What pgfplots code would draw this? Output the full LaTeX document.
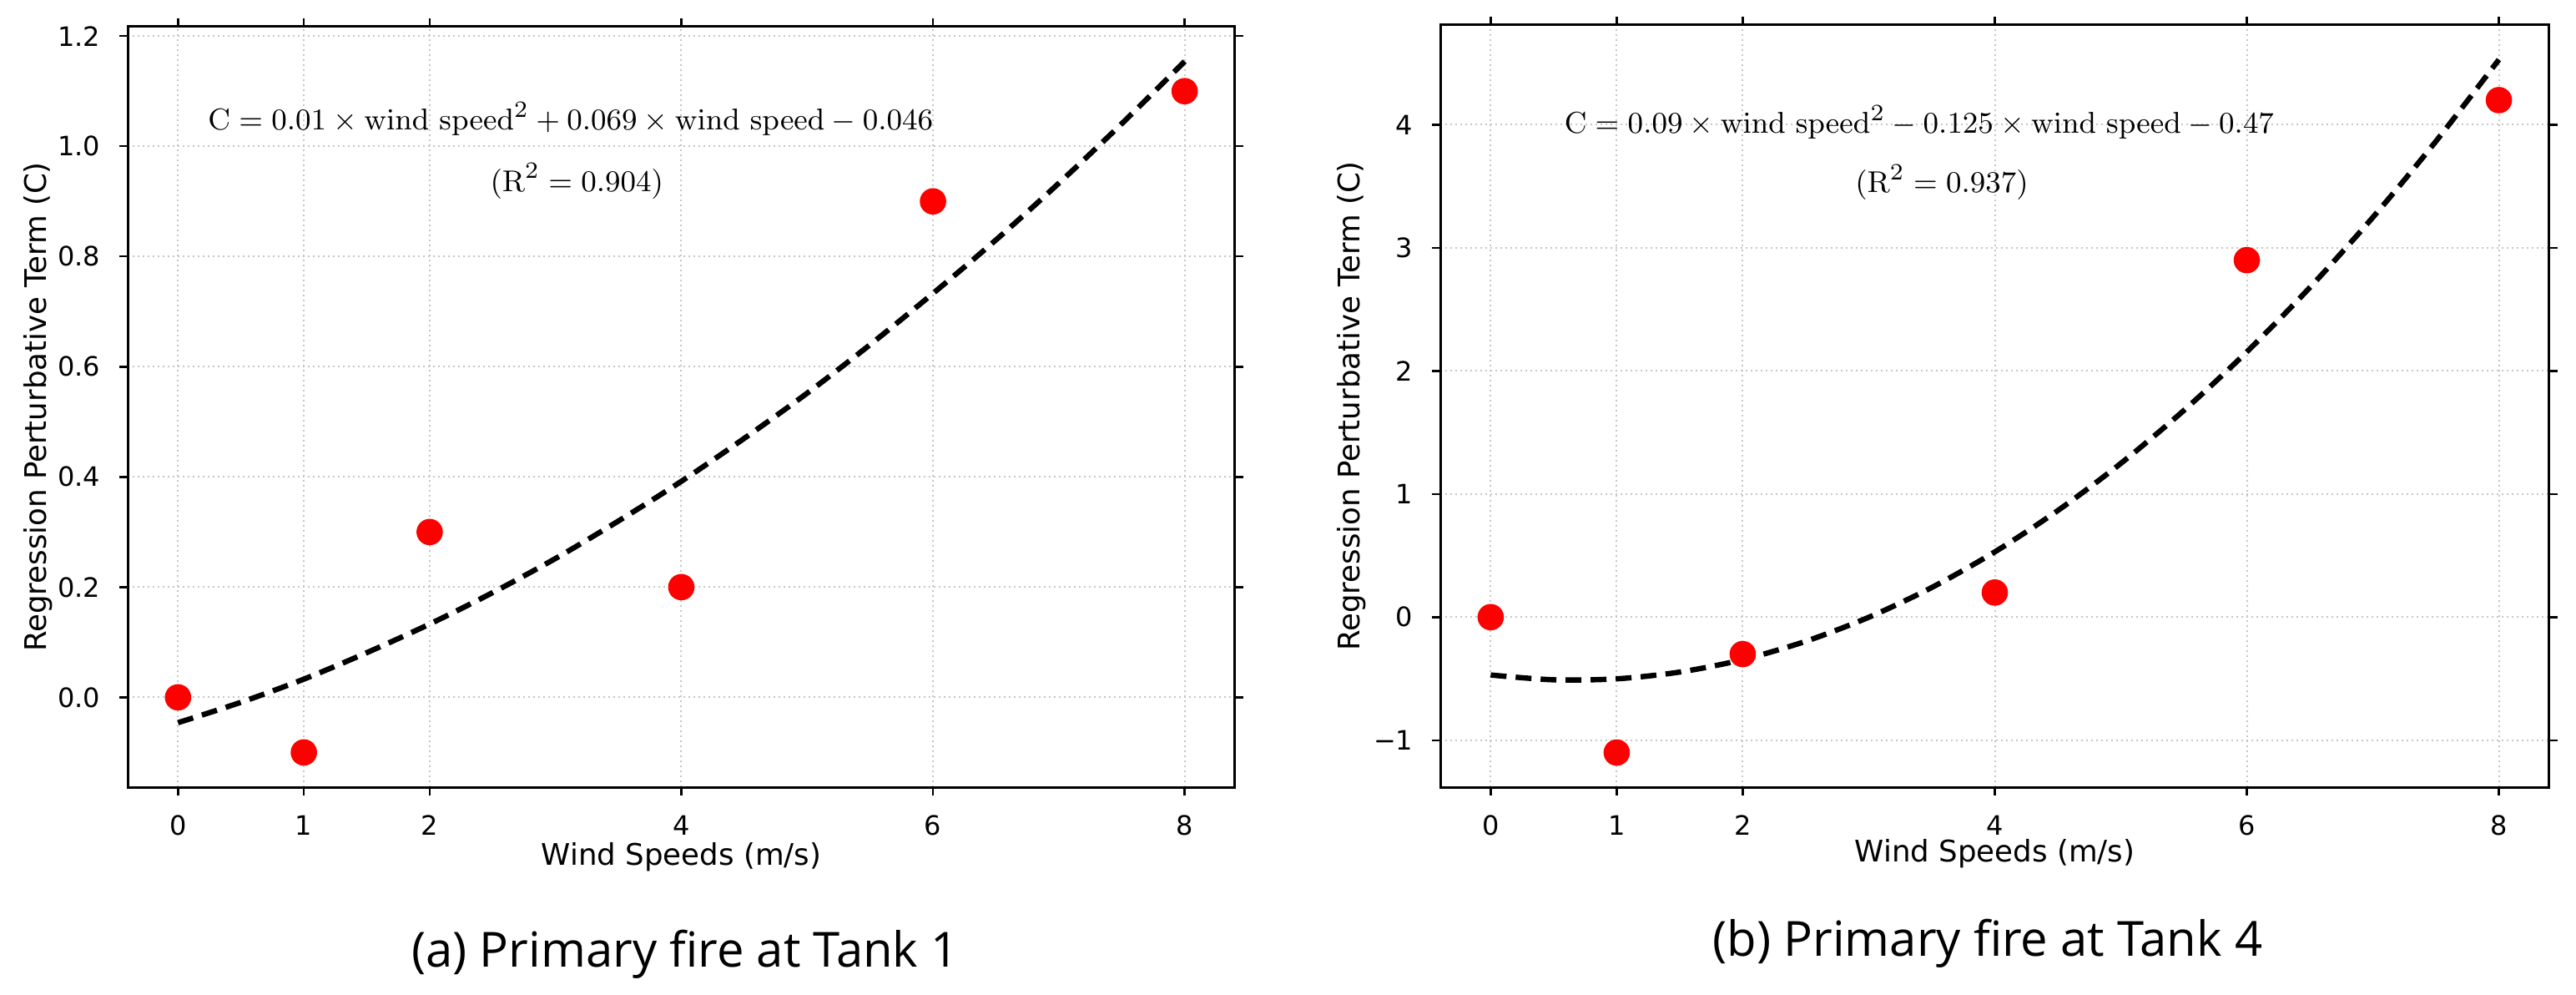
\documentclass[border=0pt]{standalone}
\usepackage[no-math]{fontspec}
\setmainfont{DejaVu Sans}
\newfontfamily\capfont{Open Sans}
\usepackage{pgfplots}
\pgfplotsset{compat=1.18}
\pgfplotsset{
  common/.style={
    scale only axis,
    anchor=south west,
    xmin=-0.4, xmax=8.4,
    xtick={0,1,2,4,6,8}, xticklabels={0,1,2,4,6,8},
    tick align=outside, major tick length=2.5pt,
    tick style={black, line width=0.6pt},
    axis line style={black, line width=0.75pt},
    grid=major,
    major grid style={gray!45, line width=0.5pt, dash pattern=on 0.6pt off 0.9pt},
    xticklabel style={font=\fontsize{8}{9.6}\selectfont, anchor=center, inner sep=0pt, yshift=-9pt},
    yticklabel style={font=\fontsize{8}{9.6}\selectfont, anchor=east, inner sep=0pt, xshift=-5.5pt},
    xlabel={Wind Speeds (m/s)},
    ylabel={Regression Perturbative Term (C)},
    clip=false,
  },
  fitline/.style={black, line width=1.6pt, dash pattern=on 4.75pt off 2.75pt, smooth},
  pts/.style={only marks, mark=*, mark size=3.75pt, color=red, mark options={fill=red, draw=red}},
}
\begin{document}
\begin{tikzpicture}
\path[use as bounding box] (0,0) rectangle (771.75pt,297.75pt);

\begin{axis}[common,
  at={(38.25pt,62pt)},
  width=331.75pt, height=227.75pt,
  ymin=-0.163, ymax=1.217,
  ytick={0,0.2,0.4,0.6,0.8,1.0,1.2},
  yticklabels={0.0,0.2,0.4,0.6,0.8,1.0,1.2},
  every axis x label/.style={at={(axis description cs:0.5,-0.092)}, anchor=center, font=\fontsize{8.9}{10.7}\selectfont},
  every axis y label/.style={at={(axis description cs:-0.0805,0.5)}, anchor=center, rotate=90, font=\fontsize{8.9}{10.7}\selectfont},
]
\addplot[pts] coordinates {(0,0) (1,-0.1) (2,0.3) (4,0.2) (6,0.9) (8,1.1)};
\addplot[fitline] coordinates {
(0,-0.046) (0.5,-0.009) (1,0.033) (1.5,0.081) (2,0.133) (2.5,0.190) (3,0.252) (3.5,0.320)
(4,0.392) (4.5,0.470) (5,0.552) (5.5,0.640) (6,0.733) (6.5,0.830) (7,0.933) (7.5,1.041) (8,1.154)};
\node[font=\fontsize{9.45}{11.3}\selectfont] at (axis cs:3.12,1.05)
  {$\mathrm{C} = 0.01 \times \mathrm{wind\ speed}^{2} + 0.069 \times \mathrm{wind\ speed} - 0.046$};
\node[font=\fontsize{9.5}{11.4}\selectfont] at (axis cs:3.17,0.937)
  {$(\mathrm{R}^{2} = 0.904)$};
\end{axis}

\begin{axis}[common,
  at={(431.5pt,62pt)},
  width=332.25pt, height=228.25pt,
  ymin=-1.381, ymax=4.81,
  ytick={-1,0,1,2,3,4},
  yticklabels={−1,0,1,2,3,4},
  every axis x label/.style={at={(axis description cs:0.5,-0.0876)}, anchor=center, font=\fontsize{8.9}{10.7}\selectfont},
  every axis y label/.style={at={(axis description cs:-0.0798,0.5)}, anchor=center, rotate=90, font=\fontsize{8.9}{10.7}\selectfont},
]
\addplot[pts] coordinates {(0,0) (1,-1.1) (2,-0.3) (4,0.2) (6,2.9) (8,4.2)};
\addplot[fitline] coordinates {
(0,-0.470) (0.5,-0.509) (1,-0.501) (1.5,-0.446) (2,-0.345) (2.5,-0.196) (3,-0.001) (3.5,0.241)
(4,0.530) (4.5,0.866) (5,1.249) (5.5,1.679) (6,2.155) (6.5,2.678) (7,3.248) (7.5,3.865) (8,4.529)};
\node[font=\fontsize{9.45}{11.3}\selectfont] at (axis cs:3.40,4.02)
  {$\mathrm{C} = 0.09 \times \mathrm{wind\ speed}^{2} - 0.125 \times \mathrm{wind\ speed} - 0.47$};
\node[font=\fontsize{9.5}{11.4}\selectfont] at (axis cs:3.58,3.53)
  {$(\mathrm{R}^{2} = 0.937)$};
\end{axis}

\node[font=\capfont\fontsize{14.5}{17.4}\selectfont] at (205.25pt,12pt) {(a) Primary fire at Tank 1};
\node[font=\capfont\fontsize{14.5}{17.4}\selectfont] at (595.5pt,15.25pt) {(b) Primary fire at Tank 4};
\end{tikzpicture}
\end{document}
